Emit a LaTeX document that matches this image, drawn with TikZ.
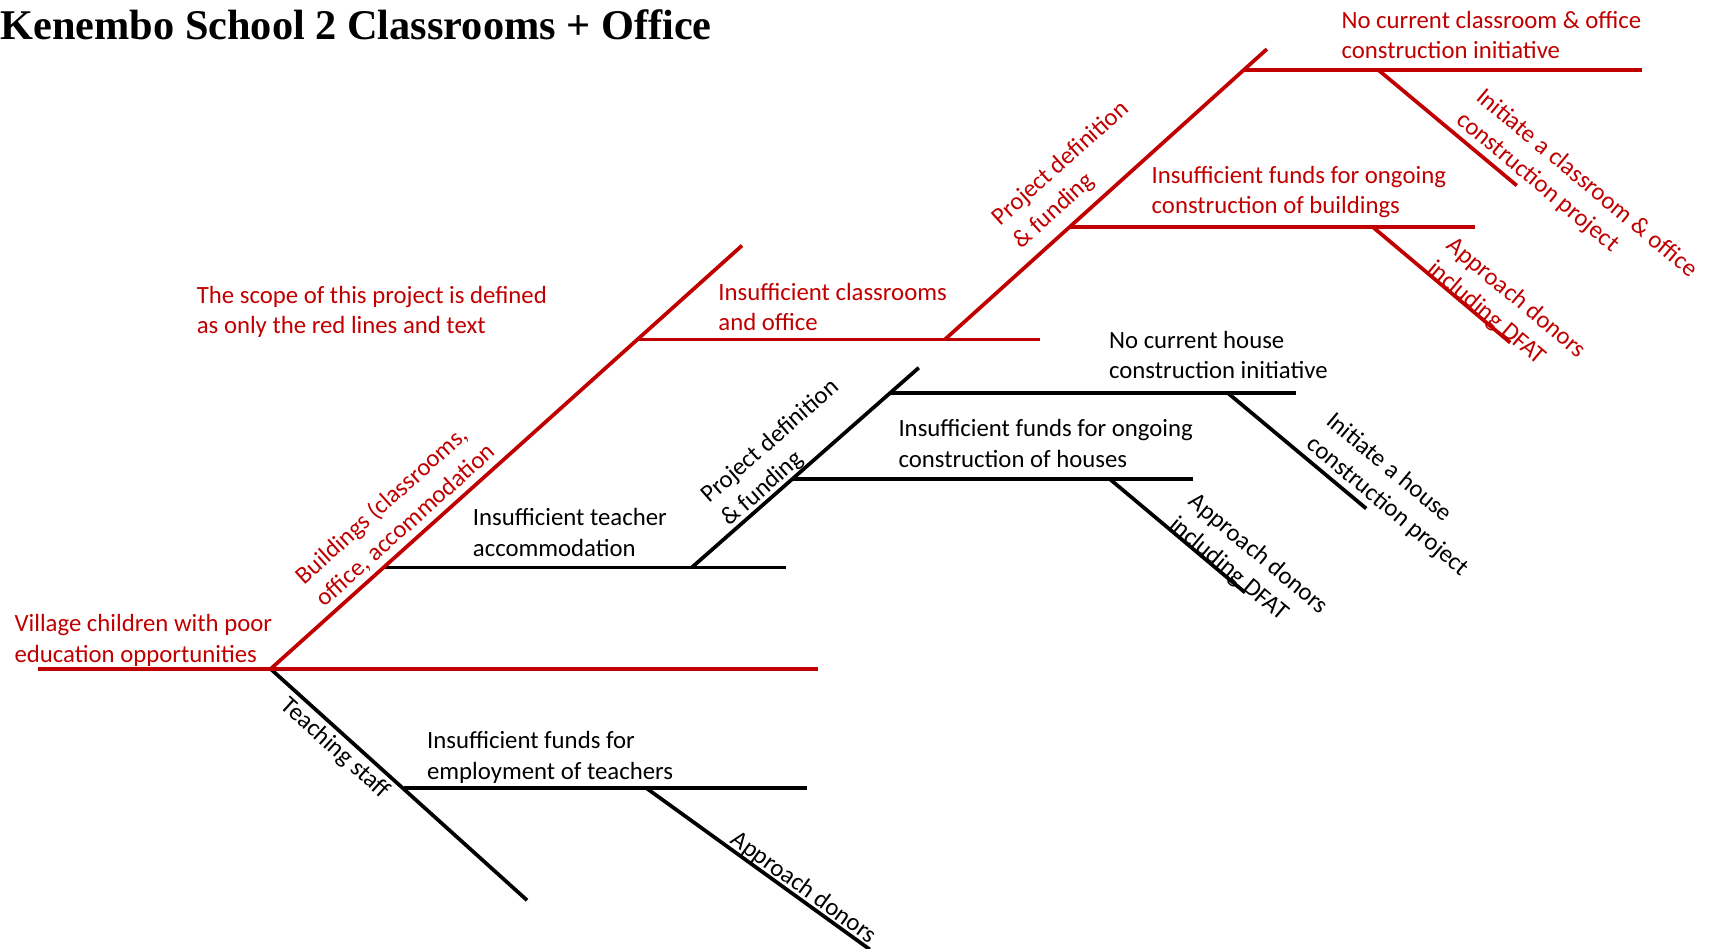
\documentclass[tikz,border=0pt]{standalone}
\usepackage{fontspec}
\setmainfont{Carlito}
\newfontfamily\headfont{Liberation Serif}
\definecolor{scopered}{HTML}{C00000}

\begin{document}
\begin{tikzpicture}[x=0.5pt,y=-0.5pt]

      \tikzset{bone/.style={line width=1.7pt},
               redbone/.style={bone, draw=scopered},
               blackbone/.style={bone, draw=black},
               lbl/.style={inner sep=0pt, align=left, font=\fontsize{11.35}{14}\selectfont},
               redlbl/.style={lbl, text=scopered}}

      \useasboundingbox (0,0) rectangle (1568,869);

      \node[anchor=base west, inner sep=0pt, font=\headfont\bfseries\fontsize{19.4}{23}\selectfont] (title) at (0,36) {Kenembo School 2 Classrooms + Office};

% Points
	%Rygrad
      	\coordinate (tail) at (35,613);
      	\coordinate (head) at (248,613);
      	\coordinate (spineEnd) at (750,613);
	%Bygninger
      	\coordinate (bldTop) at (680,225);
      	\coordinate (bldA) at (351.5,520);
      	\coordinate (bldAEnd) at (720,520);
      	\coordinate (bldB) at (584.5,311);
      	\coordinate (bldBEnd) at (953,311);
	%Huse (sort)
      	\coordinate (hpdLow) at (634,520);
      	\coordinate (hpdTop) at (842,337);
      	\coordinate (hfund) at (726,439);
      	\coordinate (hfundEnd) at (1093,439);
      	\coordinate (hnone) at (816,360);
      	\coordinate (hnoneEnd) at (1188,360);
      	\coordinate (hdonor) at (1017,439);
      	\coordinate (hdonorEnd) at (1141,543);
      	\coordinate (hinit) at (1125,360);
      	\coordinate (hinitEnd) at (1252,466);
	%Klasseværelser (rød)
      	\coordinate (cpdLow) at (866,311);
      	\coordinate (cpdTop) at (1161,45);
      	\coordinate (cfund) at (980,208);
      	\coordinate (cfundEnd) at (1352,208);
      	\coordinate (cnone) at (1140,64);
      	\coordinate (cnoneEnd) at (1505,64);
      	\coordinate (cdonor) at (1258,208);
      	\coordinate (cdonorEnd) at (1384,314);
      	\coordinate (cinit) at (1263,64);
      	\coordinate (cinitEnd) at (1390,170);
	%Lærere
      	\coordinate (teachEnd) at (483,825);
      	\coordinate (tfund) at (370,722);
      	\coordinate (tfundEnd) at (740,722);
      	\coordinate (tdonor) at (592,722);
      	\coordinate (tdonorEnd) at (797,870);

% Lines
	%Sort
		\draw[blackbone] (head) -- (teachEnd);
		\draw[blackbone] (tfund) -- (tfundEnd);
		\draw[blackbone] (tdonor) -- (tdonorEnd);
		\draw[blackbone] (bldA) -- (bldAEnd);
		\draw[blackbone] (hpdLow) -- (hpdTop);
		\draw[blackbone] (hfund) -- (hfundEnd);
		\draw[blackbone] (hnone) -- (hnoneEnd);
		\draw[blackbone] (hdonor) -- (hdonorEnd);
		\draw[blackbone] (hinit) -- (hinitEnd);
	%Rød
		\draw[redbone] (tail) -- (spineEnd);
		\draw[redbone] (head) -- (bldTop);
		\draw[redbone] (bldB) -- (bldBEnd);
		\draw[redbone] (cpdLow) -- (cpdTop);
		\draw[redbone] (cfund) -- (cfundEnd);
		\draw[redbone] (cnone) -- (cnoneEnd);
		\draw[redbone] (cdonor) -- (cdonorEnd);
		\draw[redbone] (cinit) -- (cinitEnd);

% Text
	%Vandret (base = sidste linje)
		\node[redlbl, anchor=base west] (problem) at (13,607) {Village children with poor\\education opportunities};
		\node[redlbl, anchor=base west] (scope) at (180,306) {The scope of this project is defined\\as only the red lines and text};
		\node[redlbl, anchor=base west] (classes) at (658,303) {Insufficient classrooms\\and office};
		\node[redlbl, anchor=base west] (cfundLbl) at (1055,196) {Insufficient funds for ongoing\\construction of buildings};
		\node[redlbl, anchor=base west] (cnoneLbl) at (1229,54) {No current classroom \& office\\construction initiative};
		\node[lbl, anchor=base west] (houses) at (433,510) {Insufficient teacher\\accommodation};
		\node[lbl, anchor=base west] (hfundLbl) at (823,428) {Insufficient funds for ongoing\\construction of houses};
		\node[lbl, anchor=base west] (hnoneLbl) at (1016,347) {No current house\\construction initiative};
		\node[lbl, anchor=base west] (tfundLbl) at (391,714) {Insufficient funds for\\employment of teachers};
	%Skrå
		\path (head) -- node[redlbl, sloped, pos=0.31, above=2.5pt] (bldLbl) {Buildings (classrooms,\\office, accommodation} (bldTop);
		\path (cpdLow) -- node[redlbl, sloped, pos=0.47, above=5pt] (cpdLbl) {Project definition\\\& funding} (cpdTop);
		\path (cdonor) -- node[redlbl, sloped, pos=0.866, above=-1.9pt] (cdonorLbl) {Approach donors\\including DFAT} (cdonorEnd);
		\path (cinit) -- node[redlbl, sloped, pos=1.29, above=2pt] (cinitLbl) {Initiate a classroom \& office\\construction project} (cinitEnd);
		\path (hpdLow) -- node[lbl, sloped, pos=0.47, above=0.3pt] (hpdLbl) {Project definition\\\& funding} (hpdTop);
		\path (hdonor) -- node[lbl, sloped, pos=0.917, above=-1.9pt] (hdonorLbl) {Approach donors\\including DFAT} (hdonorEnd);
		\path (hinit) -- node[lbl, sloped, pos=1.085, above=1.75pt] (hinitLbl) {Initiate a house\\construction project} (hinitEnd);
		\path (head) -- node[lbl, sloped, pos=0.293, below=2.2pt] (teachLbl) {Teaching staff} (teachEnd);
		\path (tdonor) -- node[lbl, sloped, pos=0.675, above=0pt] (tdonorLbl) {Approach donors} (tdonorEnd);

\end{tikzpicture}
\end{document}
